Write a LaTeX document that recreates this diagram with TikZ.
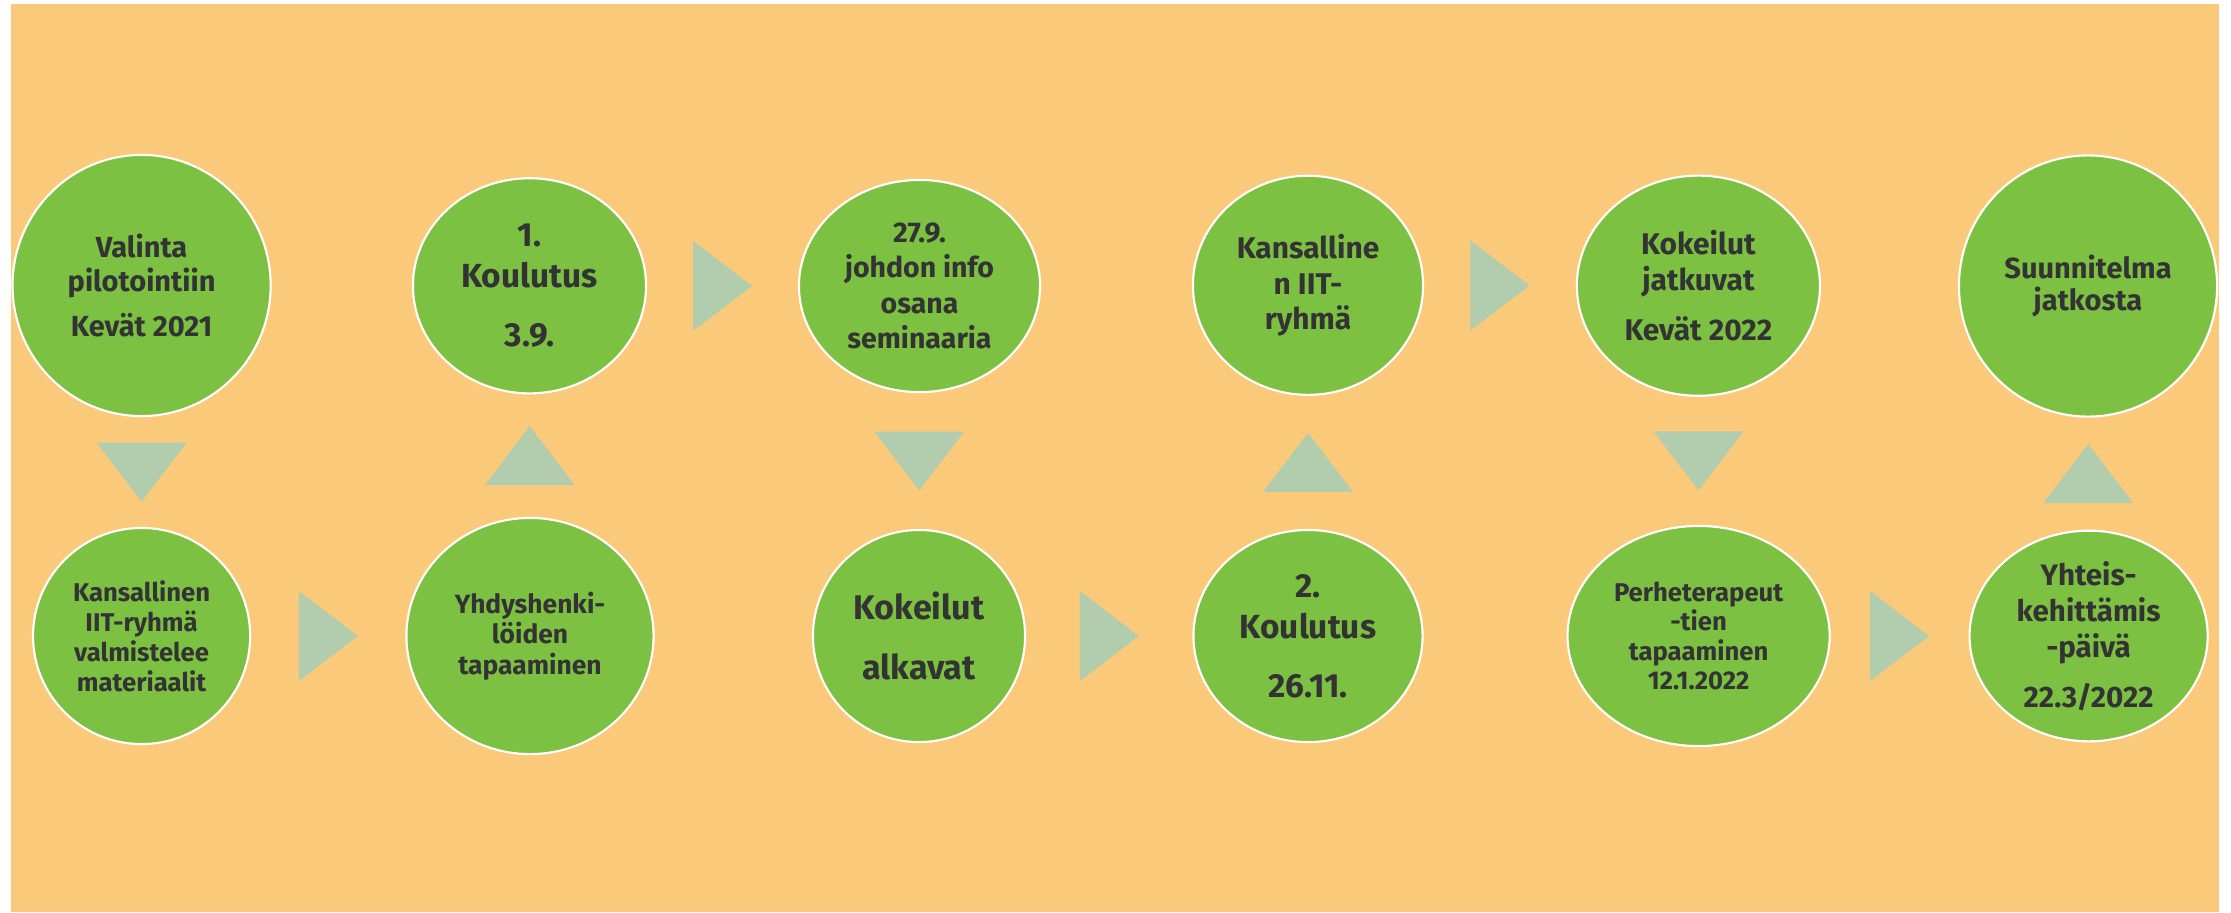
\documentclass[tikz,border=0pt]{standalone}
\usepackage{fontspec}
\setmainfont{Fira Sans}
\usetikzlibrary{shapes.geometric,calc}
\definecolor{bgorange}{HTML}{FBC97A}
\definecolor{stagegreen}{HTML}{7DC143}
\definecolor{trigreen}{HTML}{B2CCAE}
\definecolor{textgrey}{HTML}{333333}

\begin{document}
\begin{tikzpicture}[x=0.01cm,y=-0.01cm,
  stage/.style={ellipse,draw=white,line width=0.6pt,fill=stagegreen,text=textgrey,
    align=center,inner sep=0pt},
  txt/.style 2 args={font=\bfseries\fontsize{#1}{#2}\selectfont},
  tri/.style={fill=trigreen}]
  \useasboundingbox (0,0) rectangle (2231,912);
  \fill[white] (0,0) rectangle (2231,912);
  \fill[bgorange] (11,4) rectangle (2219,912);

  % top row
  \node[stage,txt={8.25}{9.4},minimum width=2.58cm,minimum height=2.61cm] (valinta) at (141.6,285.5)
    {Valinta\\pilotointiin\\[3.4pt]Kevät 2021};
  \node[stage,txt={9.5}{11.7},minimum width=2.33cm,minimum height=2.15cm] (koulutus1) at (529.5,285.8)
    {1.\\Koulutus\\[5.1pt]3.9.};
  \node[stage,txt={8.1}{10.1},minimum width=2.41cm,minimum height=2.12cm] (johto) at (919.5,286)
    {27.9.\\johdon info\\osana\\seminaaria};
  \node[stage,txt={8.5}{10.2},minimum width=2.30cm,minimum height=2.19cm] (iitryhma) at (1308,285.3)
    {Kansalline\\n IIT-\\ryhmä};
  \node[stage,txt={8.5}{10.2},minimum width=2.43cm,minimum height=2.20cm] (jatkuvat) at (1698.4,285.7)
    {Kokeilut\\jatkuvat\\[4pt]Kevät 2022};
  \node[stage,txt={8.25}{9.1},minimum width=2.58cm,minimum height=2.61cm] (suunnitelma) at (2088,286)
    {Suunnitelma\\jatkosta};

  % bottom row
  \node[stage,txt={7.3}{8.5},minimum width=2.17cm,minimum height=2.16cm] (materiaalit) at (141.6,636)
    {Kansallinen\\IIT-ryhmä\\valmistelee\\materiaalit};
  \node[stage,txt={7.5}{8.7},minimum width=2.47cm,minimum height=2.36cm] (yhdyshenkilot) at (530,636)
    {Yhdyshenki-\\löiden\\tapaaminen};
  \node[stage,txt={9.7}{11.7},minimum width=2.12cm,minimum height=2.12cm] (alkavat) at (919,636)
    {Kokeilut\\[5.4pt]alkavat};
  \node[stage,txt={9.5}{11.7},minimum width=2.29cm,minimum height=2.12cm] (koulutus2) at (1308,636)
    {2.\\Koulutus\\[5.1pt]26.11.};
  \node[stage,txt={7.3}{8.4},minimum width=2.62cm,minimum height=2.20cm] (perhet) at (1698.6,636)
    {Perheterapeut\\-tien\\tapaaminen\\12.1.2022};
  \node[stage,txt={8.4}{10.2},minimum width=2.38cm,minimum height=1.99cm] (yhteis) at (2088.6,636)
    {Yhteis-\\kehittämis\\-päivä\\[4pt]22.3/2022};

  % triangles between the stages
  \coordinate (t1) at ($(valinta.south)!0.5!(materiaalit.north)$);
  \coordinate (t2) at ($(materiaalit.east)!0.5!(yhdyshenkilot.west)$);
  \coordinate (t3) at ($(yhdyshenkilot.north)!0.5!(koulutus1.south)$);
  \coordinate (t4) at ($(koulutus1.east)!0.5!(johto.west)$);
  \coordinate (t5) at ($(johto.south)!0.5!(alkavat.north)$);
  \coordinate (t6) at ($(alkavat.east)!0.5!(koulutus2.west)$);
  \coordinate (t7) at ($(koulutus2.north)!0.5!(iitryhma.south)$);
  \coordinate (t8) at ($(iitryhma.east)!0.5!(jatkuvat.west)$);
  \coordinate (t9) at ($(jatkuvat.south)!0.5!(perhet.north)$);
  \coordinate (t10) at ($(perhet.east)!0.5!(yhteis.west)$);
  \coordinate (t11) at ($(yhteis.north)!0.5!(suunnitelma.south)$);

  \fill[tri] (t1) ++(-45,-29.5) -- ++(90,0) -- ++(-45,59) -- cycle;
  \fill[tri] (t2) ++(-29.5,-45) -- ++(0,90) -- ++(59,-45) -- cycle;
  \fill[tri] (t3) ++(-45,29.5) -- ++(90,0) -- ++(-45,-59) -- cycle;
  \fill[tri] (t4) ++(-29.5,-45) -- ++(0,90) -- ++(59,-45) -- cycle;
  \fill[tri] (t5) ++(-45,-29.5) -- ++(90,0) -- ++(-45,59) -- cycle;
  \fill[tri] (t6) ++(-29.5,-45) -- ++(0,90) -- ++(59,-45) -- cycle;
  \fill[tri] (t7) ++(-45,29.5) -- ++(90,0) -- ++(-45,-59) -- cycle;
  \fill[tri] (t8) ++(-29.5,-45) -- ++(0,90) -- ++(59,-45) -- cycle;
  \fill[tri] (t9) ++(-45,-29.5) -- ++(90,0) -- ++(-45,59) -- cycle;
  \fill[tri] (t10) ++(-29.5,-45) -- ++(0,90) -- ++(59,-45) -- cycle;
  \fill[tri] (t11) ++(-45,29.5) -- ++(90,0) -- ++(-45,-59) -- cycle;
\end{tikzpicture}
\end{document}
